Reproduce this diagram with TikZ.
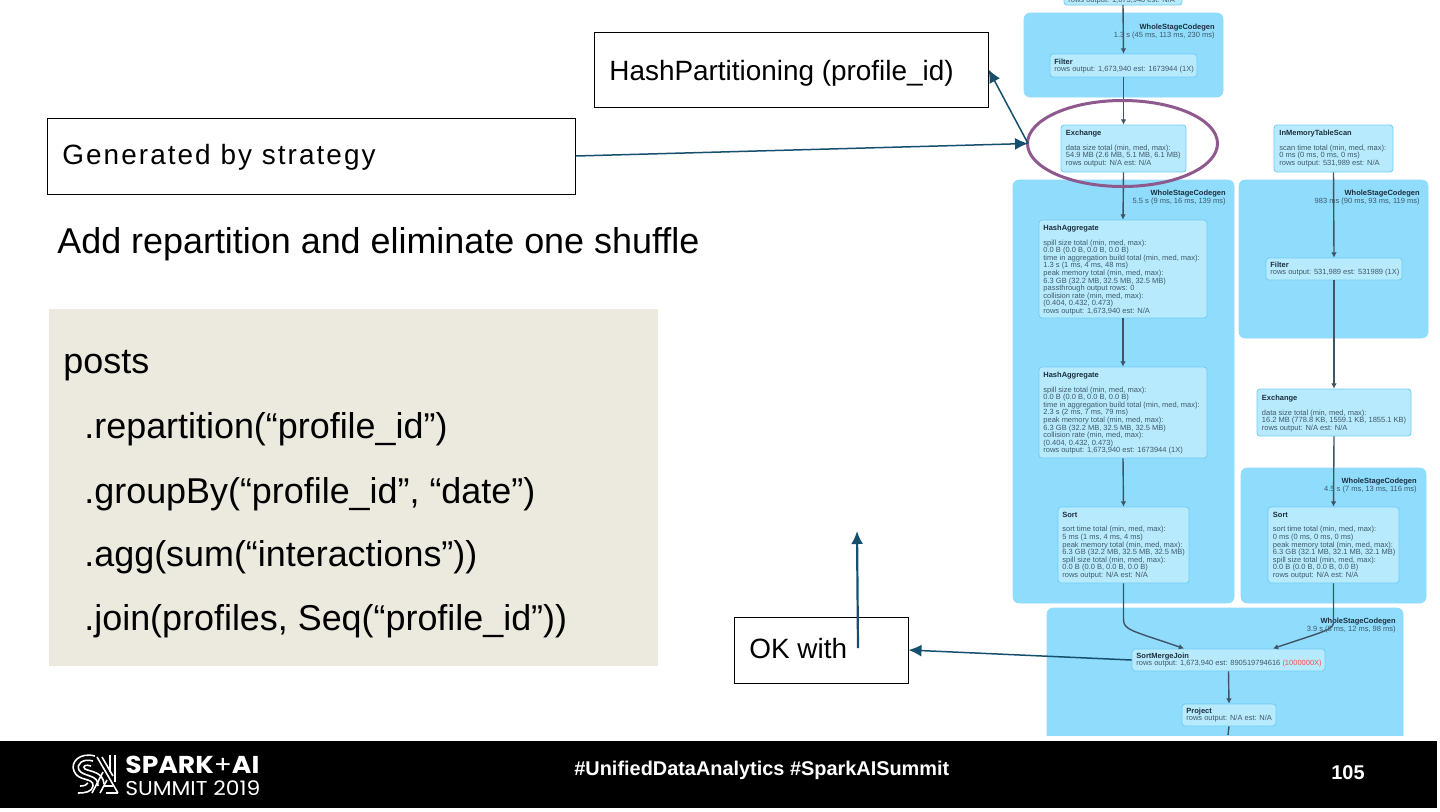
\documentclass[tikz,border=0pt]{standalone}
\usepackage{fontspec}
\setmainfont{Liberation Sans}
\newfontfamily\logofont{Poppins}
\usetikzlibrary{arrows.meta}
\definecolor{clusterblue}{HTML}{8FDCFD}
\definecolor{opblue}{HTML}{B8EAFE}
\definecolor{opline}{HTML}{6FCDF5}
\definecolor{teal}{HTML}{17506E}
\definecolor{flow}{HTML}{3F5566}
\definecolor{oval}{HTML}{8E5A8E}
\definecolor{panel}{HTML}{ECEADF}
\definecolor{small}{HTML}{3F5A68}
\definecolor{smalld}{HTML}{1C2F3C}
\newcommand{\fsz}[2]{\fontsize{#1}{#2}\selectfont}
\tikzset{
 x=0.5pt,y=-0.5pt,
 cluster/.style={fill=clusterblue,draw=clusterblue,rounded corners=3pt,inner sep=0,line width=0.3pt},
 opbox/.style={fill=opblue,draw=opline,rounded corners=1.5pt,line width=0.4pt},
 optext/.style={anchor=north west,align=left,inner sep=0,text=small,font=\fsz{3.75}{3.8}},
 cltext/.style={anchor=north east,align=right,inner sep=0,text=small,font=\fsz{3.75}{3.9}},
 flowline/.style={draw=flow,line width=0.7pt,-{Latex[length=2.6pt,width=2.8pt]}},
 callout/.style={draw=black,fill=white,line width=0.5pt},
 calltext/.style={anchor=base west,inner sep=0,text=black,font=\fsz{13.95}{16}},
 pointer/.style={draw=teal,line width=0.75pt,-{Latex[length=6.5pt,width=6pt]}},
 code/.style={anchor=base west,inner sep=0,text=black,font=\fsz{17.95}{20}},
 logostroke/.style={draw=white,line width=0.8pt},
}
\newcommand{\otitle}[1]{{\color{smalld}\bfseries #1}}
\begin{document}
\begin{tikzpicture}
\useasboundingbox (0,0) rectangle (1440,811);
\fill[white] (0,0) rectangle (1440,811);
% clusters
\begin{scope}
\clip (0,0) rectangle (1437,735);
\fill[cluster] (1024,13) rectangle (1223,97);
\fill[cluster] (1013,180) rectangle (1234,603);
\fill[cluster] (1239,180) rectangle (1428,338);
\fill[cluster] (1241,468) rectangle (1426,603);
\fill[cluster] (1047,608) rectangle (1403,745);
\draw[opbox] (1064,-20) rectangle (1182,5);
\node[optext] (t0) at (1068,-3.5) {rows output: 1,673,940 est: N/A};
\end{scope}
\coordinate (topop) at (1123,5);
\coordinate (bottomend) at (1228,735);
\node[cltext] (c1a) at (1215,23.5) {\otitle{WholeStageCodegen}\\1.3 s (45 ms, 113 ms, 230 ms)};
\node[cltext] (c2a) at (1226,189.5) {\otitle{WholeStageCodegen}\\5.5 s (9 ms, 16 ms, 139 ms)};
\node[cltext] (c3a) at (1420,189.5) {\otitle{WholeStageCodegen}\\983 ms (90 ms, 93 ms, 119 ms)};
\node[cltext] (c4a) at (1417,477.5) {\otitle{WholeStageCodegen}\\4.5 s (7 ms, 13 ms, 116 ms)};
\node[cltext] (c5a) at (1396,617.5) {\otitle{WholeStageCodegen}\\3.9 s (8 ms, 12 ms, 98 ms)};
% operators
\newcommand{\opnode}[5]{\node[opbox,inner sep=0,minimum width=#3*0.5pt,minimum height=#4*0.5pt] (#1) at (#2) {};}
\opnode{filterA}{1123.5,65.5}{147}{23}{}
\opnode{exchA}{1123.5,148.5}{125}{47}{}
\opnode{scan}{1333.5,148.5}{119}{47}{}
\opnode{aggA}{1123,269}{168}{98}{}
\opnode{aggB}{1123,412.5}{168}{91}{}
\opnode{filterB}{1334,269}{136}{22}{}
\opnode{exchB}{1334,412.5}{154}{47}{}
\opnode{sortA}{1123.5,545}{131}{76}{}
\opnode{sortB}{1333.5,545}{131}{76}{}
\opnode{smj}{1228.5,660}{193}{22}{}
\opnode{proj}{1229,715}{94}{22}{}
\node[optext] (tf1) at (1054,58.5) {\otitle{Filter}\\rows output: 1,673,940 est: 1673944 (1X)};
\node[optext] (te1) at (1065.5,129.5) {\otitle{Exchange}\\[3.6pt]data size total (min, med, max):\\54.9 MB (2.6 MB, 5.1 MB, 6.1 MB)\\rows output: N/A est: N/A};
\node[optext] (ts1) at (1279,129.5) {\otitle{InMemoryTableScan}\\[3.6pt]scan time total (min, med, max):\\0 ms (0 ms, 0 ms, 0 ms)\\rows output: 531,989 est: N/A};
\node[optext] (ta1) at (1043,224.5) {\otitle{HashAggregate}\\[3.6pt]spill size total (min, med, max):\\0.0 B (0.0 B, 0.0 B, 0.0 B)\\time in aggregation build total (min, med, max):\\1.3 s (1 ms, 4 ms, 48 ms)\\peak memory total (min, med, max):\\6.3 GB (32.2 MB, 32.5 MB, 32.5 MB)\\passthrough output rows: 0\\collision rate (min, med, max):\\(0.404, 0.432, 0.473)\\rows output: 1,673,940 est: N/A};
\node[optext] (ta2) at (1043,371.5) {\otitle{HashAggregate}\\[3.6pt]spill size total (min, med, max):\\0.0 B (0.0 B, 0.0 B, 0.0 B)\\time in aggregation build total (min, med, max):\\2.3 s (2 ms, 7 ms, 79 ms)\\peak memory total (min, med, max):\\6.3 GB (32.2 MB, 32.5 MB, 32.5 MB)\\collision rate (min, med, max):\\(0.404, 0.432, 0.473)\\rows output: 1,673,940 est: 1673944 (1X)};
\node[optext] (tf2) at (1270,261.5) {\otitle{Filter}\\rows output: 531,989 est: 531989 (1X)};
\node[optext] (te2) at (1261.5,394.5) {\otitle{Exchange}\\[3.6pt]data size total (min, med, max):\\16.2 MB (778.8 KB, 1559.1 KB, 1855.1 KB)\\rows output: N/A est: N/A};
\node[optext] (to1) at (1062,511.5) {\otitle{Sort}\\[3.6pt]sort time total (min, med, max):\\5 ms (1 ms, 4 ms, 4 ms)\\peak memory total (min, med, max):\\6.3 GB (32.2 MB, 32.5 MB, 32.5 MB)\\spill size total (min, med, max):\\0.0 B (0.0 B, 0.0 B, 0.0 B)\\rows output: N/A est: N/A};
\node[optext] (to2) at (1272.5,511.5) {\otitle{Sort}\\[3.6pt]sort time total (min, med, max):\\0 ms (0 ms, 0 ms, 0 ms)\\peak memory total (min, med, max):\\6.3 GB (32.1 MB, 32.1 MB, 32.1 MB)\\spill size total (min, med, max):\\0.0 B (0.0 B, 0.0 B, 0.0 B)\\rows output: N/A est: N/A};
\node[optext] (tj) at (1136,652.5) {\otitle{SortMergeJoin}\\rows output: 1,673,940 est: 890519794616 {\color{red!70!white}(1000000X)}};
\node[optext] (tp) at (1186,707.5) {\otitle{Project}\\rows output: N/A est: N/A};
% flow edges
\draw[flowline] (topop) -- (filterA.north);
\draw[flowline] (filterA.south) -- (exchA.north);
\draw[flowline] (exchA.south) -- (aggA.north);
\draw[flowline] (aggA.south) -- (aggB.north);
\draw[flowline] (aggB.south) -- (sortA.north);
\draw[flowline] (scan.south) -- (filterB.north);
\draw[flowline] (filterB.south) -- (exchB.north);
\draw[flowline] (exchB.south) -- (sortB.north);
\coordinate (jl) at (1184,648.5);
\coordinate (jr) at (1273,648.5);
\draw[flowline] (sortA.south) -- (1123.5,619) .. controls (1123.5,630) and (1130,630) .. (jl);
\draw[flowline] (sortB.south) -- (1333.5,621) .. controls (1333.5,630) and (1328,630) .. (jr);
\draw[flowline] (smj.south) -- (proj.north);
\draw[flow,line width=0.7pt] (proj.south) -- (bottomend);
% oval
\draw[oval,line width=1.5pt] (1122.5,143.5) ellipse [x radius=95,y radius=43];
\coordinate (ovalw) at (1028,143.5);
% callouts
\node[callout,inner sep=0,minimum width=197pt,minimum height=37.5pt] (hash) at (791,69.5) {};
\node[calltext] (hasht) at (609,80) {HashPartitioning (profile\_id)};
\node[callout,inner sep=0,minimum width=264pt,minimum height=38pt] (gen) at (311,156) {};
\node[calltext,font=\fsz{13.95}{16}\addfontfeature{LetterSpace=7.4}] (gent) at (62,164) {Generated by strategy};
\node[callout,inner sep=0,minimum width=87pt,minimum height=33pt] (ok) at (821,650) {};
\node[calltext] (okt) at (749,658) {OK with};
\coordinate (okup) at (857,531);
\coordinate (oks) at (858,648);
\draw[pointer] (gen.east) -- (ovalw);
\draw[pointer] (ovalw) -- (hash.east);
\draw[pointer] (smj.west) -- (ok.east);
\draw[pointer,line width=1.1pt] (oks) -- (okup);
% left text
\node[code] (addt) at (57,253) {Add repartition and eliminate one shuffle};
\node[fill=panel,inner sep=0,minimum width=304.5pt,minimum height=178.5pt] (codepanel) at (353.5,487.5) {};
\node[code] (l1) at (63,373) {posts};
\node[code] (l2) at (84,438) {.repartition(“profile\_id”)};
\node[code] (l3) at (84,503) {.groupBy(“profile\_id”, “date”)};
\node[code] (l4) at (84,566.5) {.agg(sum(“interactions”))};
\node[code] (l5) at (84,630.5) {.join(profiles, Seq(“profile\_id”))};
% footer
\fill[black] (0,741) rectangle (1437,808);
\node[anchor=base west,inner sep=0,text=white,font=\fsz{9.95}{11}\bfseries] (tag) at (574,775) {\#UnifiedDataAnalytics \#SparkAISummit};
\node[anchor=base,inner sep=0,text=white,font=\fsz{9.95}{11}\bfseries] (pg) at (1348,779) {105};
\node[anchor=base west,inner sep=0,text=white,font=\logofont\fsz{12.2}{14}\bfseries] (lg1) at (125,773.5) {\scalebox{1.09}[1]{SPARK{\mdseries +}AI}};
\node[anchor=base west,inner sep=0,text=white,font=\logofont\fsz{10}{14}] (lg2) at (125,795.5) {\scalebox{1.09}[1]{SUMMIT 2019}};
\begin{scope}[logostroke]
\draw (95,756) .. controls (80,752) and (70,762) .. (74,771) .. controls (78,782) and (94,777) .. (93,786) .. controls (92,792) and (85,793) .. (78,793);
\draw (93,761) .. controls (83,758) and (76,764) .. (79,770) .. controls (83,777) and (99,774) .. (98,786);
\draw (91,766) .. controls (86,764) and (82,766) .. (85,769) .. controls (92,772) and (103,772) .. (104,784);
\draw (80,786) .. controls (84,786) and (87,785) .. (88,783);
\draw (97,757) -- (118,793);
\draw (102,757) -- (113,776);
\draw (110,755) -- (110,772) (115,755) -- (115,782);
\draw (92,793) -- (103,772) (100,793) -- (107,780);
\draw (103,786) -- (113,786) (106,793) -- (118,793);
\end{scope}
\end{tikzpicture}
\end{document}
